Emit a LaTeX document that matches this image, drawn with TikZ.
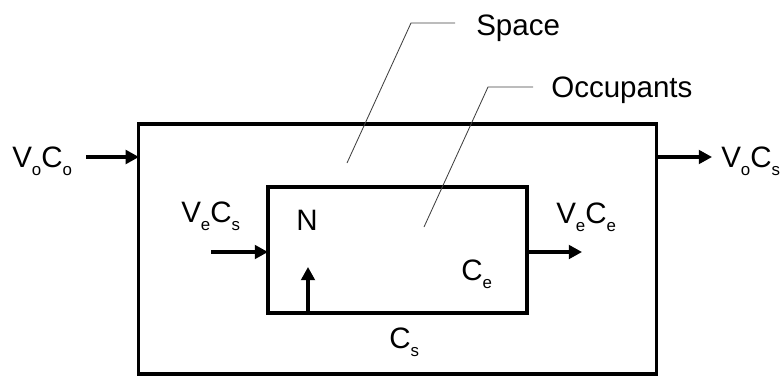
\documentclass[tikz,border=0pt]{standalone}
\usepackage{fontspec}
\setmainfont{Liberation Sans}
\usetikzlibrary{arrows.meta,positioning}
\newcommand{\sbs}[1]{\raisebox{-6pt}{\fontsize{12}{13}\selectfont #1}}

\begin{document}
\begin{tikzpicture}[
    x=0.025cm, y=-0.025cm,
    box/.style={rectangle, draw, line width=2.2pt, inner sep=0pt, outer sep=0pt},
    flow/.style={-{Triangle[length=0.33cm, width=0.34cm]}, line width=2.2pt},
    leader/.style={draw=black!75, line width=0.6pt},
    tag/.style={font=\fontsize{21}{25}\selectfont, inner sep=0pt, anchor=base west}
]
\useasboundingbox (0,0) rectangle (783,376);

\node[box, minimum width=12.925cm, minimum height=6.25cm] (space) at (397.5,249) {};
\node[box, minimum width=6.475cm, minimum height=3.15cm] (occ) at (397.5,250) {};

\node[tag] (inlbl) at (12,167) {V\sbs{o}C\sbs{o}};
\node[tag] (outlbl) at (721,167) {V\sbs{o}C\sbs{s}};
\node[tag] (exinlbl) at (181,222) {V\sbs{e}C\sbs{s}};
\node[tag] (exoutlbl) at (556,223) {V\sbs{e}C\sbs{e}};
\node[tag, anchor=base] (genlbl) at (307,230) {N};
\node[tag] (celbl) at (461,280) {C\sbs{e}};
\node[tag] (cslbl) at (389,348) {C\sbs{s}};
\node[tag] (spacelbl) at (476,35) {Space};
\node[tag] (occlbl) at (551,97) {Occupants};

\coordinate (srcin) at (86,157);
\coordinate (srcout) at (712,157);
\coordinate (exin) at (211,252);
\coordinate (exout) at (582,252);
\coordinate (gen) at (308,267);
\coordinate (spacept) at (347,163);
\coordinate (occpt) at (424,227);

\draw[flow] (srcin) -- (srcin -| space.west);
\draw[flow] (srcout -| space.east) -- (srcout);
\draw[flow] (exin) -- (exin -| occ.west);
\draw[flow] (exout -| occ.east) -- (exout);
\draw[flow] (gen |- occ.south) -- (gen);

\draw[leader] (spacept) -- ++(64,-140) -- ++(44,0);
\draw[leader] (occpt) -- ++(64,-140) -- ++(45,0);

\end{tikzpicture}
\end{document}
